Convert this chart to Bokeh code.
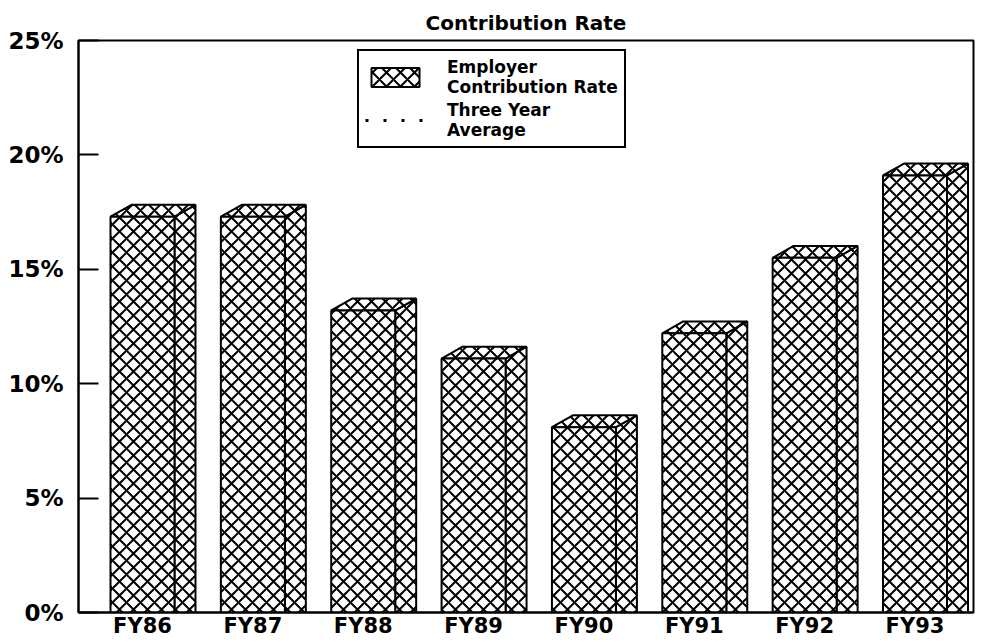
from bokeh.plotting import figure
from bokeh.models import Range1d, FixedTicker, PrintfTickFormatter, Legend, LegendItem
from bokeh.embed import file_html
from bokeh.resources import INLINE

# ---- data ----
categories = ["FY86", "FY87", "FY88", "FY89", "FY90", "FY91", "FY92", "FY93"]
employer_rate = [17.3, 17.3, 13.2, 11.1, 8.1, 12.2, 15.5, 19.1]   # percent
three_year_avg = [float("nan")] * 8   # series not visibly drawn in the source
y_ticks = [0, 5, 10, 15, 20, 25]

FONT = "DejaVu Sans"
W, H = 980, 640
bar_w = 0.58      # front face width (x units)
dx = 0.19         # 3-D depth, x units
dy = 0.52         # 3-D depth, y units

xs = list(range(len(categories)))
left = [x - bar_w / 2 for x in xs]
right = [x + bar_w / 2 for x in xs]

p = figure(width=W, height=H, output_backend="svg", toolbar_location=None,
           x_range=Range1d(-0.58, 7.53), y_range=Range1d(0, 25),
           min_border_left=78, min_border_right=7, min_border_top=40, min_border_bottom=0)
p.background_fill_color = "white"
p.border_fill_color = "white"
p.outline_line_color = "black"
p.outline_line_width = 2
p.xgrid.visible = False
p.ygrid.visible = False

p.title.text = "Contribution Rate"
p.title.align = "center"
p.title.text_font = FONT
p.title.text_font_size = "20px"
p.title.text_font_style = "bold"
p.title.text_color = "black"
p.title.offset = 0
p.title.standoff = 12

common = dict(fill_color="white", line_color="black", line_width=2,
              hatch_pattern="x", hatch_color="black", hatch_scale=14, hatch_weight=2)

side_x = [[r, r, r + dx, r + dx] for r in right]
side_y = [[0, v, v + dy, 0] for v in employer_rate]
top_x = [[l, l + dx, r + dx, r] for l, r in zip(left, right)]
top_y = [[v, v + dy, v + dy, v] for v in employer_rate]
p.patches(xs=side_x, ys=side_y, **common)
p.patches(xs=top_x, ys=top_y, **common)
front = p.quad(left=left, right=right, bottom=0, top=employer_rate, **common)

avg = p.line(x=xs, y=three_year_avg, line_color="black",
             line_width=3, line_dash="3 15")

legend = Legend(items=[LegendItem(label="Employer\nContribution Rate", renderers=[front]),
                       LegendItem(label="Three Year\nAverage", renderers=[avg])],
                location=(279, 464), orientation="vertical")
legend.border_line_color = "black"
legend.border_line_width = 2
legend.border_line_alpha = 1
legend.background_fill_alpha = 1
legend.label_text_font = FONT
legend.label_text_font_size = "17px"
legend.label_text_font_style = "bold"
legend.label_text_color = "black"
legend.label_text_line_height = 0.8
legend.glyph_width = 60
legend.glyph_height = 24
legend.label_standoff = 22
legend.padding = 6
legend.spacing = 3
legend.margin = 0
p.add_layout(legend, "center")

# axes
p.yaxis.ticker = FixedTicker(ticks=y_ticks)
p.yaxis.formatter = PrintfTickFormatter(format="%d%%")
p.yaxis.major_tick_in = 20
p.yaxis.major_tick_out = 0
p.yaxis.minor_tick_line_color = None
p.yaxis.major_tick_line_width = 2
p.yaxis.axis_line_width = 2
p.yaxis.major_label_text_font = FONT
p.yaxis.major_label_text_font_size = "23px"
p.yaxis.major_label_text_font_style = "bold"
p.yaxis.major_label_text_color = "black"
p.yaxis.major_label_standoff = 15

p.xaxis.ticker = FixedTicker(ticks=xs)
p.xaxis.major_label_overrides = {i: c for i, c in enumerate(categories)}
p.xaxis.major_tick_in = 0
p.xaxis.major_tick_out = 0
p.xaxis.minor_tick_line_color = None
p.xaxis.axis_line_width = 2
p.xaxis.major_label_text_font = FONT
p.xaxis.major_label_text_font_size = "21px"
p.xaxis.major_label_text_font_style = "bold"
p.xaxis.major_label_text_color = "black"
p.xaxis.major_label_standoff = 1

open("out.html", "w").write(file_html(p, INLINE))
